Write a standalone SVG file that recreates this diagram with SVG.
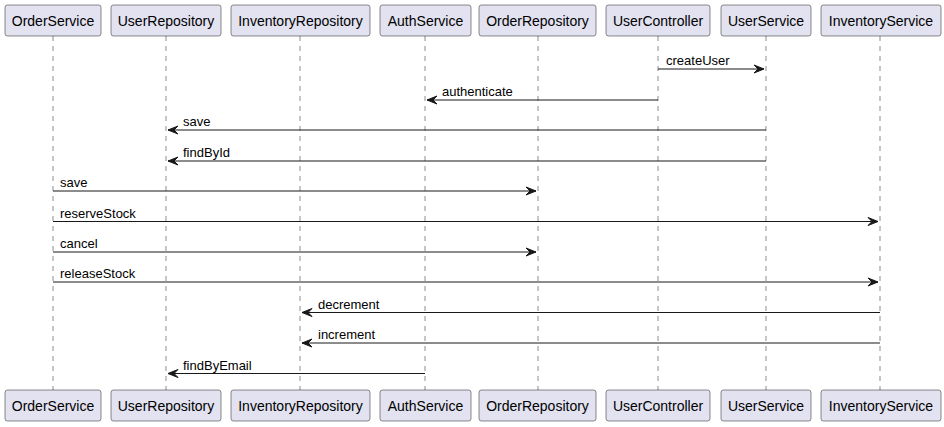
<svg xmlns="http://www.w3.org/2000/svg" width="944" height="427" viewBox="0 0 944 427">
<defs>
<style>
.box{fill:#E2E2F0;stroke:#181818;stroke-width:0.5}
.life{stroke:#181818;stroke-width:0.5;stroke-dasharray:5,5;fill:none}
.pt{font-family:"Liberation Sans",Arial,sans-serif;font-size:14px;fill:#000;text-anchor:middle}
.msg{font-family:"Liberation Sans",Arial,sans-serif;font-size:13px;fill:#000}
.ln{stroke:#181818;stroke-width:1;fill:none}
.ah{fill:#181818;stroke:#181818;stroke-width:1}
</style>
</defs>
<rect width="944" height="427" fill="#FFFFFF"/>
<g id="lifelines">
<line class="life" x1="53" y1="36" x2="53" y2="390"/>
<line class="life" x1="166" y1="36" x2="166" y2="390"/>
<line class="life" x1="300" y1="36" x2="300" y2="390"/>
<line class="life" x1="425" y1="36" x2="425" y2="390"/>
<line class="life" x1="538" y1="36" x2="538" y2="390"/>
<line class="life" x1="658" y1="36" x2="658" y2="390"/>
<line class="life" x1="766" y1="36" x2="766" y2="390"/>
<line class="life" x1="880" y1="36" x2="880" y2="390"/>
</g>
<g id="OrderService">
<rect class="box" x="5" y="5" width="96" height="31" rx="2.5"/><text class="pt" x="53" y="25.5">OrderService</text>
<rect class="box" x="5" y="390" width="96" height="31" rx="2.5"/><text class="pt" x="53" y="410.5">OrderService</text>
</g>
<g id="UserRepository">
<rect class="box" x="111" y="5" width="110" height="31" rx="2.5"/><text class="pt" x="166" y="25.5">UserRepository</text>
<rect class="box" x="111" y="390" width="110" height="31" rx="2.5"/><text class="pt" x="166" y="410.5">UserRepository</text>
</g>
<g id="InventoryRepository">
<rect class="box" x="231" y="5" width="139" height="31" rx="2.5"/><text class="pt" x="300.5" y="25.5">InventoryRepository</text>
<rect class="box" x="231" y="390" width="139" height="31" rx="2.5"/><text class="pt" x="300.5" y="410.5">InventoryRepository</text>
</g>
<g id="AuthService">
<rect class="box" x="380" y="5" width="91" height="31" rx="2.5"/><text class="pt" x="425.5" y="25.5">AuthService</text>
<rect class="box" x="380" y="390" width="91" height="31" rx="2.5"/><text class="pt" x="425.5" y="410.5">AuthService</text>
</g>
<g id="OrderRepository">
<rect class="box" x="479" y="5" width="117" height="31" rx="2.5"/><text class="pt" x="537.5" y="25.5">OrderRepository</text>
<rect class="box" x="479" y="390" width="117" height="31" rx="2.5"/><text class="pt" x="537.5" y="410.5">OrderRepository</text>
</g>
<g id="UserController">
<rect class="box" x="606" y="5" width="104" height="31" rx="2.5"/><text class="pt" x="658" y="25.5">UserController</text>
<rect class="box" x="606" y="390" width="104" height="31" rx="2.5"/><text class="pt" x="658" y="410.5">UserController</text>
</g>
<g id="UserService">
<rect class="box" x="721" y="5" width="90" height="31" rx="2.5"/><text class="pt" x="766" y="25.5">UserService</text>
<rect class="box" x="721" y="390" width="90" height="31" rx="2.5"/><text class="pt" x="766" y="410.5">UserService</text>
</g>
<g id="InventoryService">
<rect class="box" x="821" y="5" width="120" height="31" rx="2.5"/><text class="pt" x="881" y="25.5">InventoryService</text>
<rect class="box" x="821" y="390" width="120" height="31" rx="2.5"/><text class="pt" x="881" y="410.5">InventoryService</text>
</g>
<g id="connectors">
<line class="ln" x1="658" y1="69" x2="764" y2="69"/><polygon class="ah" points="754,65 764,69 754,73 758,69"/>
<text class="msg" x="666" y="65">createUser</text>
<line class="ln" x1="658" y1="100" x2="427" y2="100"/><polygon class="ah" points="437,96 427,100 437,104 433,100"/>
<text class="msg" x="442" y="96">authenticate</text>
<line class="ln" x1="766" y1="130" x2="168" y2="130"/><polygon class="ah" points="178,126 168,130 178,134 174,130"/>
<text class="msg" x="183" y="126">save</text>
<line class="ln" x1="766" y1="161" x2="168" y2="161"/><polygon class="ah" points="178,157 168,161 178,165 174,161"/>
<text class="msg" x="183" y="157">findById</text>
<line class="ln" x1="53" y1="191" x2="536" y2="191"/><polygon class="ah" points="526,187 536,191 526,195 530,191"/>
<text class="msg" x="60" y="187">save</text>
<line class="ln" x1="53" y1="221.5" x2="878" y2="221.5"/><polygon class="ah" points="868,217.5 878,221.5 868,225.5 872,221.5"/>
<text class="msg" x="60" y="217.5">reserveStock</text>
<line class="ln" x1="53" y1="252" x2="536" y2="252"/><polygon class="ah" points="526,248 536,252 526,256 530,252"/>
<text class="msg" x="60" y="248">cancel</text>
<line class="ln" x1="53" y1="282" x2="878" y2="282"/><polygon class="ah" points="868,278 878,282 868,286 872,282"/>
<text class="msg" x="60" y="278">releaseStock</text>
<line class="ln" x1="880" y1="312.5" x2="302" y2="312.5"/><polygon class="ah" points="312,308.5 302,312.5 312,316.5 308,312.5"/>
<text class="msg" x="318" y="308.5">decrement</text>
<line class="ln" x1="880" y1="343" x2="302" y2="343"/><polygon class="ah" points="312,339 302,343 312,347 308,343"/>
<text class="msg" x="318" y="339">increment</text>
<line class="ln" x1="425" y1="373.5" x2="168" y2="373.5"/><polygon class="ah" points="178,369.5 168,373.5 178,377.5 174,373.5"/>
<text class="msg" x="183" y="369.5">findByEmail</text>
</g>
</svg>
